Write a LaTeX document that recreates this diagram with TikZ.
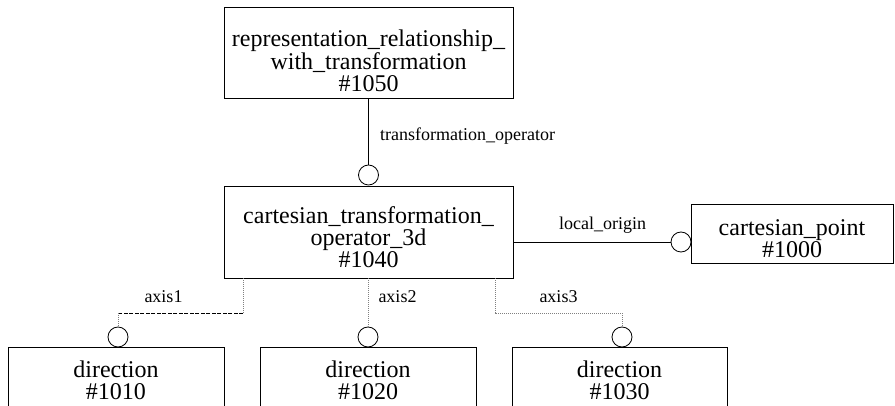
\documentclass[tikz,border=0pt]{standalone}
\usepackage{fontspec}
\setmainfont{Liberation Serif}
\begin{document}
\begin{tikzpicture}[x=1pt,y=-1pt,
  entity/.style={draw,line width=0.8pt,inner sep=0pt},
  etext/.style={align=center,inner sep=0pt,yshift=-5pt,
    font=\fontsize{24}{22}\selectfont},
  ring/.style={draw,circle,line width=0.8pt,minimum size=20pt,inner sep=0pt},
  solidlink/.style={line width=0.8pt},
  dotlink/.style={gray,line width=0.6pt,dash pattern=on 1pt off 1pt},
  dashlink/.style={line width=0.8pt,dash pattern=on 4pt off 1.5pt},
  role/.style={font=\fontsize{18}{20}\selectfont,inner sep=0pt,anchor=base}]
\useasboundingbox (0,0) rectangle (895,406);
\begin{scope}
\clip (0,0) rectangle (895,406);
% entity boxes
\node[entity,minimum width=289pt,minimum height=91pt] (b1050) at (368.5,52.5) {};
\node[entity,minimum width=289pt,minimum height=92pt] (b1040) at (368.5,232) {};
\node[entity,minimum width=202pt,minimum height=59pt] (b1000) at (792,233.5) {};
\node[entity,minimum width=216pt,minimum height=60pt] (b1010) at (116,377) {};
\node[entity,minimum width=216pt,minimum height=60pt] (b1020) at (368,377) {};
\node[entity,minimum width=215pt,minimum height=60pt] (b1030) at (619.5,377) {};
% entity names
\node[etext,yshift=-3pt] (t1050) at (b1050.center)
  {representation\_relationship\_\\with\_transformation\\\#1050};
\node[etext] (t1040) at (b1040.center)
  {cartesian\_transformation\_\\operator\_3d\\\#1040};
\node[etext] (t1000) at (b1000.center) {cartesian\_point\\\#1000};
\node[etext,yshift=2pt] (t1010) at (b1010.center) {direction\\\#1010};
\node[etext,yshift=2pt] (t1020) at (b1020.center) {direction\\\#1020};
\node[etext,yshift=2pt] (t1030) at (b1030.center) {direction\\\#1030};
% attribute end rings
\node[ring] (c1040) at (368.5,175) {};
\node[ring] (c1000) at (681,242) {};
\node[ring] (c1010) at (118,337) {};
\node[ring] (c1020) at (368,337) {};
\node[ring] (c1030) at (622,337) {};
% bend points of the axis links
\coordinate (k1) at (243,313);
\coordinate (k3) at (495,313);
% links
\draw[solidlink] (b1050.south) -- (c1040.north);
\draw[solidlink] (b1040.east |- c1000) -- (c1000.west);
\draw[dotlink] (b1040.south -| k1) -- (k1);
\draw[dashlink] (k1) -- (k1 -| c1010);
\draw[dotlink] (k1 -| c1010) -- (c1010.north);
\draw[dotlink] (b1040.south -| c1020) -- (c1020.north);
\draw[dotlink] (b1040.south -| k3) -- (k3) -- (k3 -| c1030) -- (c1030.north);
% role names
\node[role,anchor=base west] (l1) at (380,141) {transformation\_operator};
\node[role] (l2) at (602.5,230) {local\_origin};
\node[role] (l3) at (163.5,302) {axis1};
\node[role] (l4) at (397.5,302) {axis2};
\node[role] (l5) at (558.5,302) {axis3};
\end{scope}
\end{tikzpicture}
\end{document}
